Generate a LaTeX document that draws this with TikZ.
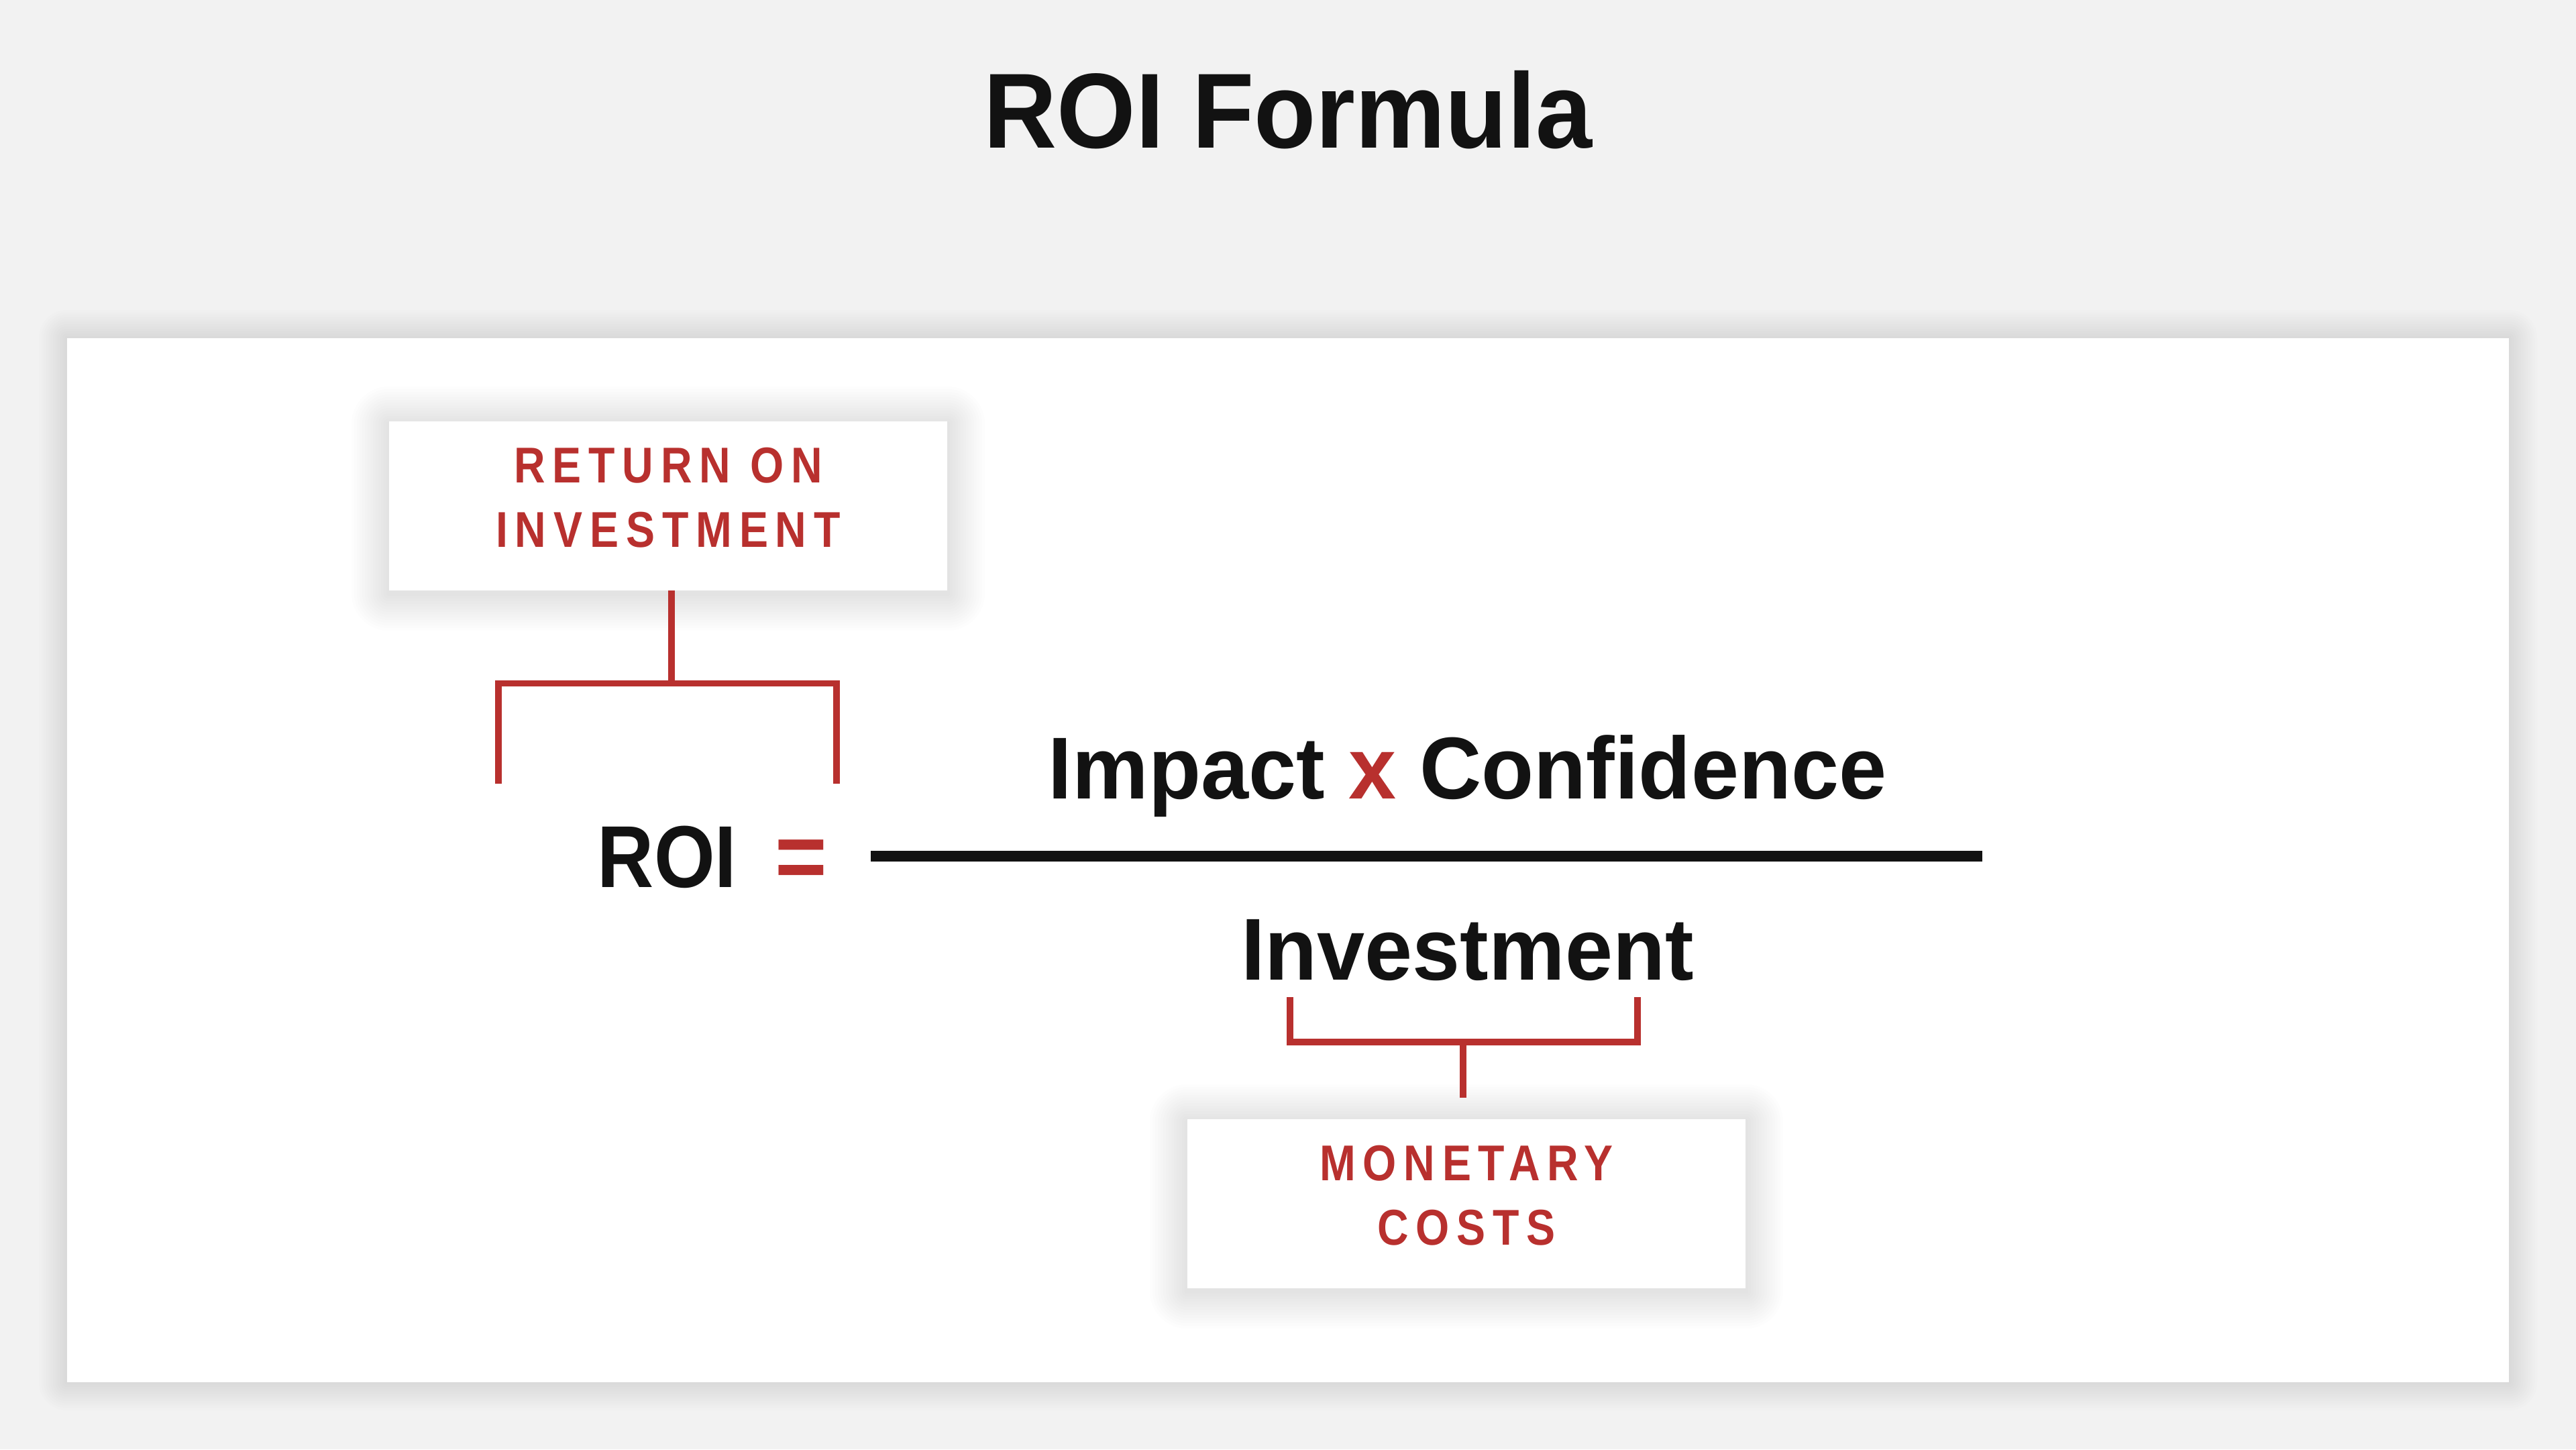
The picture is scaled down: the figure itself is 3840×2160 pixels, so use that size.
\documentclass[tikz,border=0pt]{standalone}
\usepackage{fontspec}
\setmainfont{Liberation Sans}
\newfontfamily\fBig[FakeStretch=0.95]{Liberation Sans}
\newfontfamily\fNum[FakeStretch=0.975]{Liberation Sans}
\newfontfamily\fRoi[FakeStretch=0.89]{Liberation Sans}
\newfontfamily\fLab[FakeStretch=0.86,LetterSpace=14.5]{Liberation Sans}
\definecolor{bg}{HTML}{F2F2F2}
\definecolor{rd}{HTML}{B8302E}
\definecolor{ink}{HTML}{121212}
\pgfdeclarelayer{bglayer}
\pgfdeclarelayer{pshadow}
\pgfdeclarelayer{plane}
\pgfdeclarelayer{lshadow}
\pgfsetlayers{bglayer,pshadow,plane,lshadow,main}
% soft shadow behind a named node: #1 node, #2 steps, #3 step size, #4 opacity per step, #5 y offset
\newcommand\softshade[5]{%
  \foreach \k in {1,...,#2}{%
    \fill[black,opacity=#4,rounded corners=\k*#3]
      ([xshift=-\k*#3,yshift=\k*#3-#5]#1.north west) rectangle
      ([xshift=\k*#3,yshift=-\k*#3-#5]#1.south east);}}
\begin{document}
\begin{tikzpicture}[x=1pt,y=-1pt,
  brk/.style={draw=rd,line width=9.5pt},
  lab/.style={fill=white,minimum width=832pt,minimum height=252pt,inner sep=0pt,
    align=center,text=rd,font=\fLab\bfseries\fontsize{75}{96}\selectfont,text depth=25pt},
  panel/.style={fill=white,minimum width=3640pt,minimum height=1556pt,inner sep=0pt},
  big/.style={text=ink,inner sep=0pt,anchor=base,font=\fNum\bfseries\fontsize{131}{140}\selectfont}]
\useasboundingbox (0,0) rectangle (3840,2160);
\begin{pgfonlayer}{bglayer}
\fill[bg] (0,0) rectangle (3840,2160);
\end{pgfonlayer}
\begin{pgfonlayer}{plane}
\node[panel] (panel) at (1920,1282) {};
\end{pgfonlayer}
\begin{pgfonlayer}{pshadow}
\softshade{panel}{12}{3.5pt}{0.006}{0pt}
\end{pgfonlayer}
% title
\node[big,font=\fBig\bfseries\fontsize{159}{170}\selectfont] (title) at (1920,220) {ROI Formula};
% formula
\node[big,font=\fRoi\bfseries\fontsize{131}{140}\selectfont] (roi) at (994.5,1322) {ROI};
\node[inner sep=0pt,anchor=base,text=rd,font=\fBig\bfseries\fontsize{140}{140}\selectfont] (eq) at (1194,1324) {=};
\node[big] (num) at (2187.5,1190) {Impact \textcolor{rd}{x} Confidence};
\node[big] (den) at (2187.5,1460) {Investment};
\coordinate (fl) at (1298,1276);
\coordinate (fr) at (2955,1276);
\draw[ink,line width=16pt] (fl) -- (fr);
% label boxes
\node[lab] (rbox) at (996,754) {RETURN ON\\INVESTMENT};
\node[lab] (mbox) at (2186,1794) {MONETARY\\COSTS};
\begin{pgfonlayer}{lshadow}
\softshade{rbox}{14}{4pt}{0.008}{4pt}
\softshade{mbox}{14}{4pt}{0.008}{4pt}
\end{pgfonlayer}
% top bracket
\coordinate (tb) at (1001,1018.5);
\coordinate (tl) at (743,1168);
\coordinate (tr) at (1247,1168);
\draw[brk] (rbox.south -| tb) -- (tb);
\draw[brk] (tl) -- (tl |- tb) -- (tr |- tb) -- (tr);
% bottom bracket
\coordinate (bb) at (2181,1553);
\coordinate (bl) at (1923,1486);
\coordinate (br) at (2441,1486);
\coordinate (bs) at ([yshift=32pt]mbox.north);
\draw[brk] (bl) -- (bl |- bb) -- (br |- bb) -- (br);
\draw[brk] (bb) -- (bb |- bs);
\end{tikzpicture}
\end{document}
